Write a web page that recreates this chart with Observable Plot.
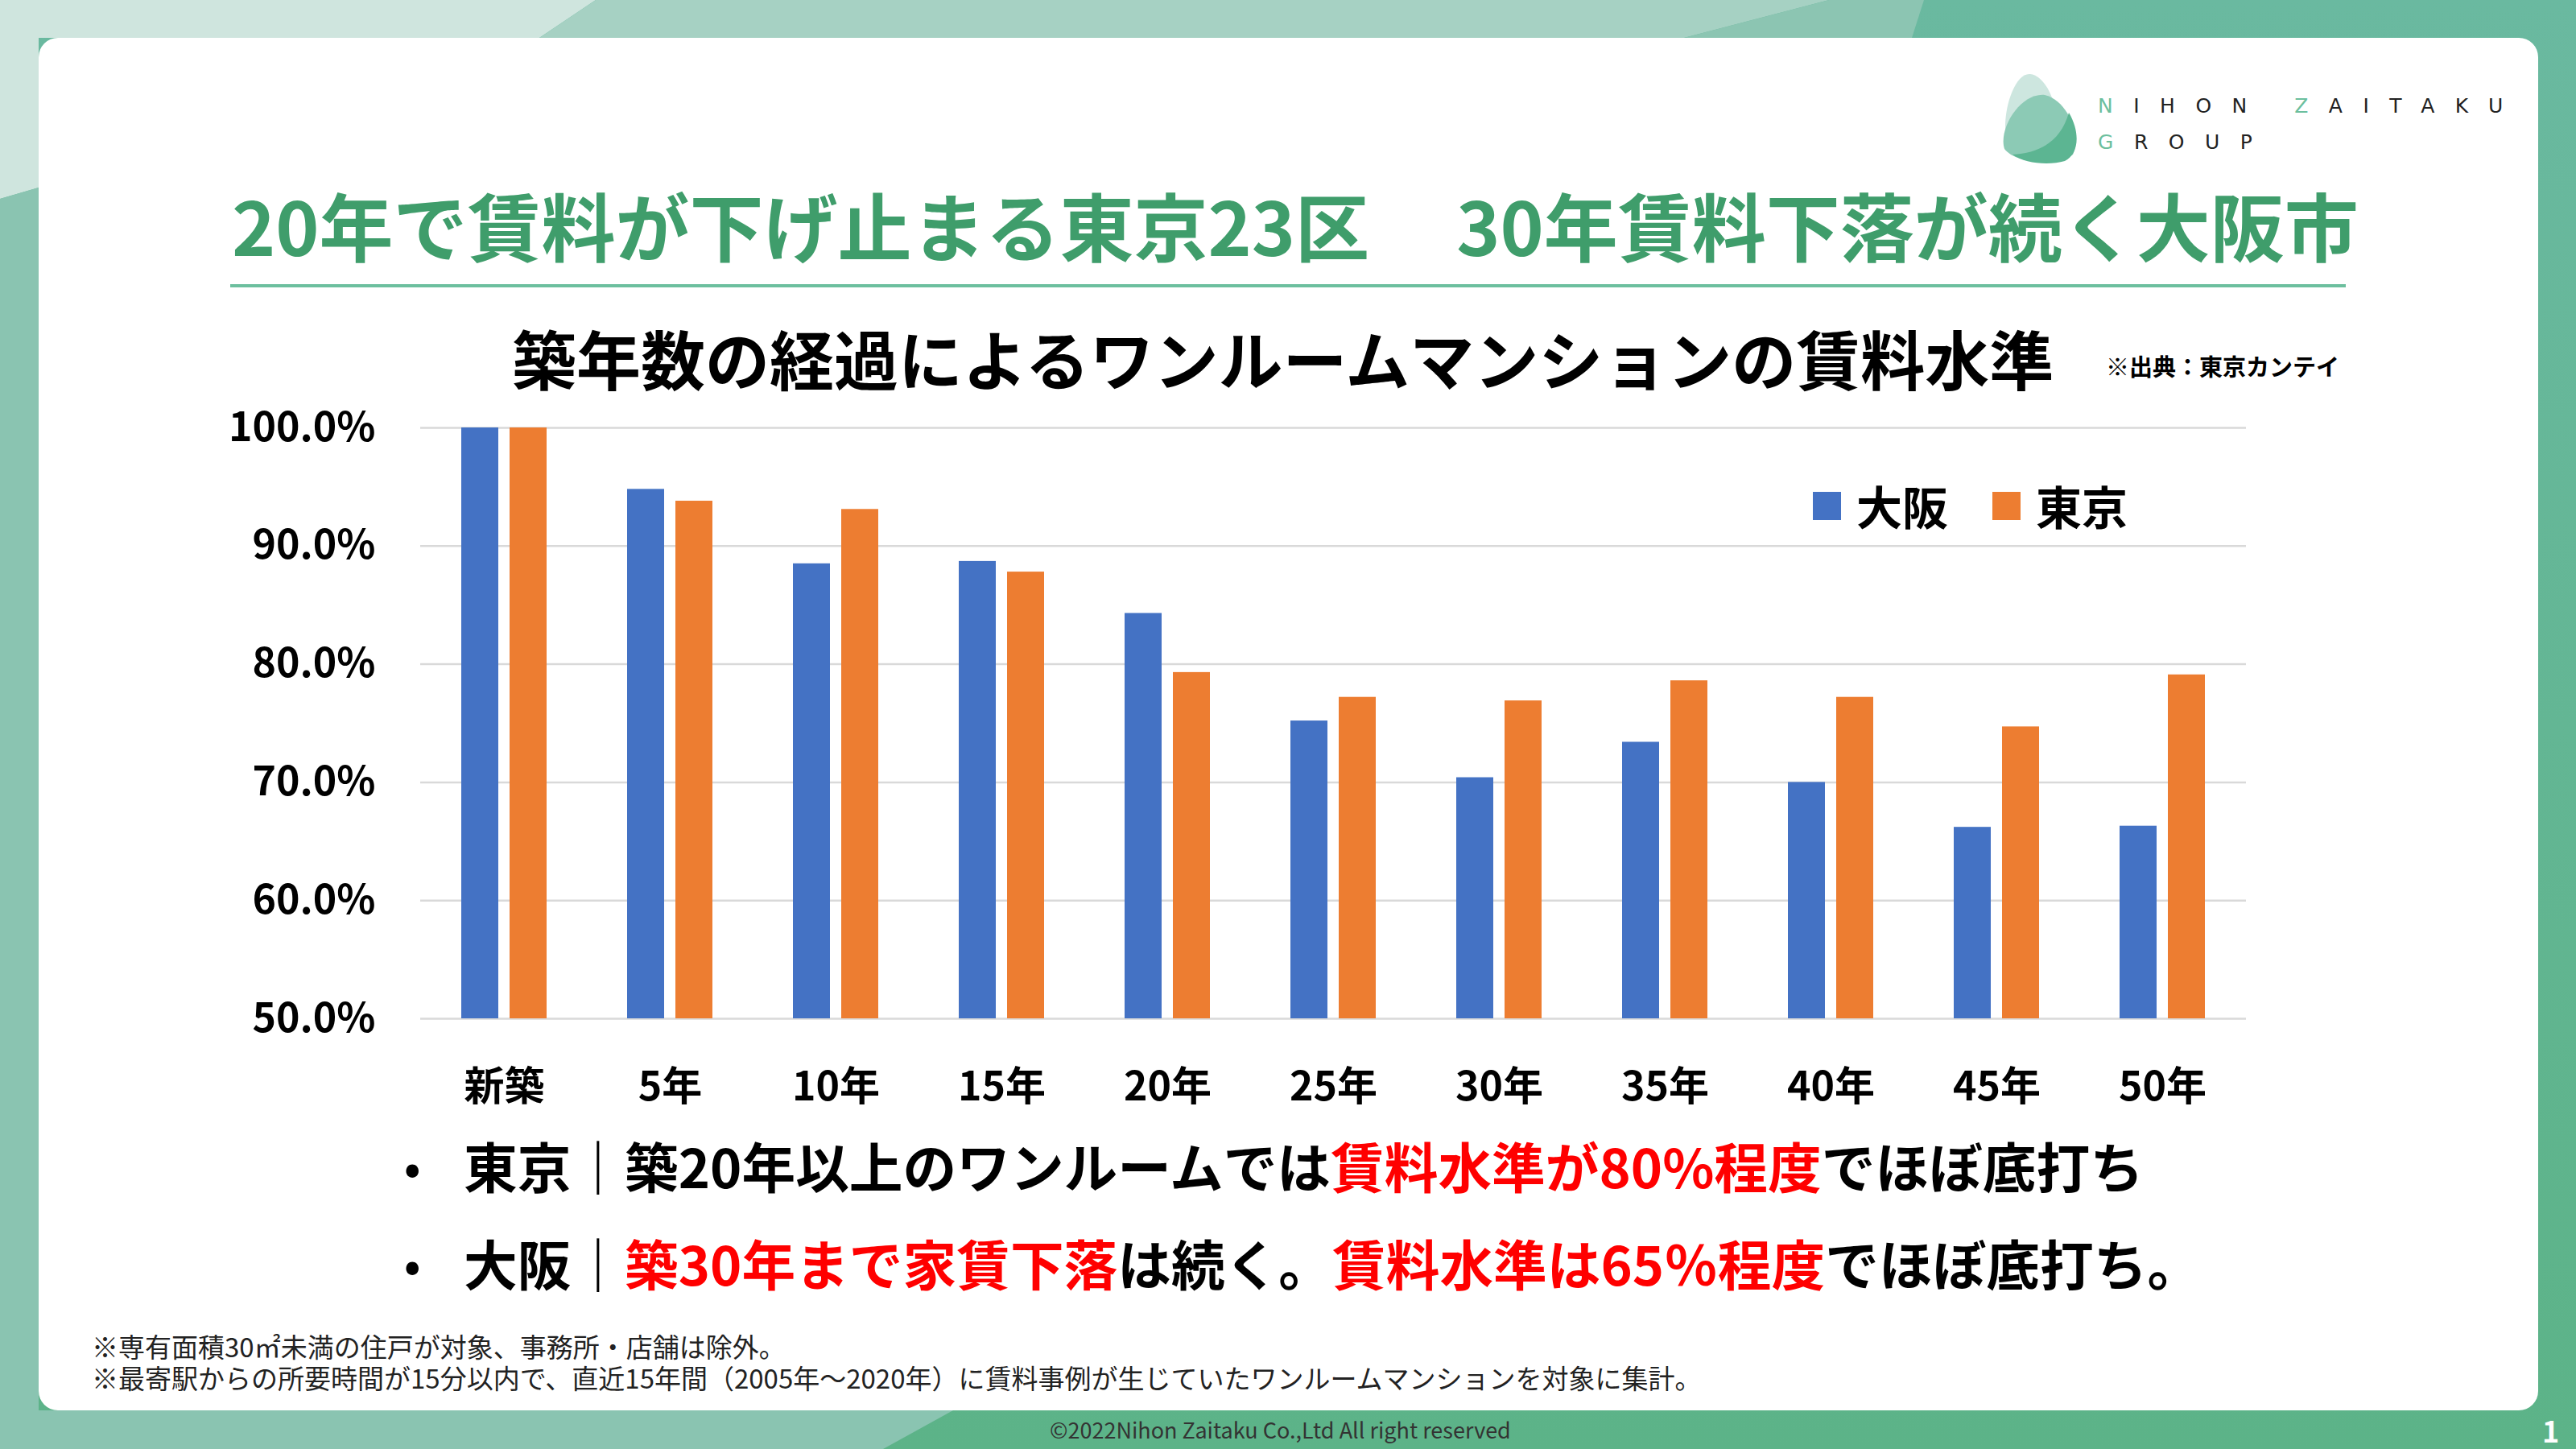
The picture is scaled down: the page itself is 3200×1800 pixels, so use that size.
<!DOCTYPE html>
<html lang="ja">
<head>
<meta charset="utf-8">
<script src="https://cdn.jsdelivr.net/npm/d3@7"></script>
<script src="https://cdn.jsdelivr.net/npm/@observablehq/plot@0.6"></script>
<style>
  html, body { margin: 0; padding: 0; }
  body { width: 3200px; height: 1800px; position: relative; overflow: hidden; background: #6ab9a0;
         font-family: "Noto Sans CJK JP", "Noto Sans", sans-serif; }
  .abs { position: absolute; white-space: nowrap; }
  #bg { position: absolute; left: 0; top: 0; }
  .red { color: #ff0000; }
</style>
</head>
<body>
<svg id="bg" width="3200" height="1800" viewBox="0 0 3200 1800">
  <defs>
    <linearGradient id="dark" x1="0" y1="0" x2="0" y2="1">
      <stop offset="0" stop-color="#6ab9a0"/>
      <stop offset="1" stop-color="#5cb388"/>
    </linearGradient>
  </defs>
  <rect x="0" y="0" width="3200" height="1800" fill="url(#dark)"/>
  <polygon points="0,0 740,0 670,47 48,47 48,233 0,247" fill="#cfe5de"/>
  <polygon points="740,0 2272,0 2092,47 670,47" fill="#a6d1c3"/>
  <polygon points="2272,0 2390,0 2375,47 2092,47" fill="#8cc5b2"/>
  <polygon points="0,247 48,233 48,1752 1184,1752 1097,1800 0,1800" fill="#8ac4b1"/>
  <rect x="48" y="47" width="3105" height="1705" rx="24" ry="24" fill="#ffffff"/>
  <!-- logo -->
  <path d="M2522,92 C2545,95 2560,140 2556,175 C2552,198 2505,200 2494,178 C2484,150 2500,90 2522,92 Z" fill="#cde6df"/>
  <path d="M2540,118 C2570,125 2585,170 2575,192 C2560,205 2505,205 2490,185 C2482,160 2510,115 2540,118 Z" fill="#8ccab5"/>
  <path d="M2570,140 C2585,165 2582,192 2565,200 C2545,206 2515,203 2500,192 C2535,190 2560,175 2570,140 Z" fill="#5cb592"/>
</svg>

<div class="abs" style="left:2606px; top:117px; font-family:'DejaVu Sans','Noto Sans',sans-serif; font-size:25px; letter-spacing:25.5px; color:#222; line-height:30px;"><span style="color:#6cbf9e">N</span>IHON <span style="color:#6cbf9e">Z</span>AITAKU</div>
<div class="abs" style="left:2606px; top:162px; font-family:'DejaVu Sans','Noto Sans',sans-serif; font-size:25px; letter-spacing:25.5px; color:#222; line-height:30px;"><span style="color:#6cbf9e">G</span>ROUP</div>

<div class="abs" style="left:288px; top:232px; font-size:92px; font-weight:700; color:#3f9d6b; line-height:92px;">20年で賃料が下げ止まる東京23区　<span style="margin-left:16px">30年賃料下落が続く大阪市</span></div>
<div class="abs" style="left:286px; top:353px; width:2628px; height:4px; background:#6cbf9e;"></div>

<div class="abs" style="left:636px; top:403px; font-size:80px; font-weight:700; color:#000; line-height:80px;">築年数の経過によるワンルームマンションの賃料水準</div>
<div class="abs" style="left:2616px; top:440px; font-size:29px; font-weight:700; color:#000; line-height:29px;">※出典：東京カンテイ</div>

<div id="chart" class="abs" style="left:100px; top:480px;"></div>
<div id="legend" class="abs" style="left:2252px; top:594px; height:60px;"></div>

<div class="abs" style="left:502px; top:1414px; font-size:54px; font-weight:700; line-height:67px;">•</div>
<div class="abs" style="left:576px; top:1414px; font-size:66.7px; font-weight:700; color:#000; line-height:67px;">東京｜築20年以上のワンルームでは<span class="red">賃料水準が80%程度</span>でほぼ底打ち</div>
<div class="abs" style="left:502px; top:1535px; font-size:54px; font-weight:700; line-height:67px;">•</div>
<div class="abs" style="left:576px; top:1535px; font-size:66.7px; font-weight:700; color:#000; line-height:67px;">大阪｜<span class="red">築30年まで家賃下落</span>は続く。<span class="red">賃料水準は65％程度</span>でほぼ底打ち。</div>

<div class="abs" style="left:114px; top:1653px; font-size:33px; color:#222; line-height:39px;">※専有面積30㎡未満の住戸が対象、事務所・店舗は除外。<br>※最寄駅からの所要時間が15分以内で、直近15年間（2005年～2020年）に賃料事例が生じていたワンルームマンションを対象に集計。</div>

<div class="abs" style="left:1304px; top:1761px; font-size:27px; color:#333; line-height:30px;">©2022Nihon Zaitaku Co.,Ltd All right reserved</div>
<div class="abs" style="left:3158px; top:1756px; font-size:36px; font-weight:700; color:#fff; line-height:40px;">1</div>

<script>
const categories = ["新築", "5年", "10年", "15年", "20年", "25年", "30年", "35年", "40年", "45年", "50年"];
const series = ["大阪", "東京"];
const osaka = [100, 94.8, 88.5, 88.7, 84.3, 75.2, 70.4, 73.4, 70.0, 66.2, 66.3];
const tokyo = [100, 93.8, 93.1, 87.8, 79.3, 77.2, 76.9, 78.6, 77.2, 74.7, 79.1];
const seriesColors = ["#4472c4", "#ed7d31"];
const yDomain = [50, 100];
const yTicks = [50, 60, 70, 80, 90, 100];

const rows = [];
categories.forEach((c, i) => {
  rows.push({category: c, series: series[0], value: osaka[i]});
  rows.push({category: c, series: series[1], value: tokyo[i]});
});

const chart = Plot.plot({
  width: 2750,
  height: 920,
  marginLeft: 422,
  marginRight: 60,
  marginTop: 51,
  marginBottom: 135,
  style: {fontFamily: "'Noto Sans CJK JP', sans-serif", fontSize: "50px", fontWeight: 700, color: "#000", background: "transparent", overflow: "visible"},
  x: {domain: categories, paddingInner: 0.487, paddingOuter: 0.235, label: null, tickSize: 0, tickPadding: 66},
  y: {domain: yDomain, clamp: true, ticks: yTicks, tickFormat: d => d.toFixed(1) + "%", label: null, tickSize: 0, tickPadding: 56},
  color: {domain: series, range: seriesColors},
  marks: [
    Plot.gridY(yTicks, {stroke: "#d9d9d9", strokeOpacity: 1, strokeWidth: 2.5}),
    Plot.barY(rows.filter(d => d.series === series[0]), {x: "category", y1: yDomain[0], y2: "value", fill: "series", insetRight: 60}),
    Plot.barY(rows.filter(d => d.series === series[1]), {x: "category", y1: yDomain[0], y2: "value", fill: "series", insetLeft: 60})
  ]
});
document.getElementById("chart").appendChild(chart);

const legend = document.getElementById("legend");
series.forEach((s, i) => {
  const sw = document.createElement("span");
  sw.style.cssText = `position:absolute; top:17px; left:${i * 223}px; width:35px; height:35px; background:${seriesColors[i]};`;
  const tx = document.createElement("span");
  tx.textContent = s;
  tx.style.cssText = `position:absolute; top:0; left:${i * 223 + 54}px; font-size:57px; font-weight:700; line-height:66px; color:#000; white-space:nowrap;`;
  legend.appendChild(sw);
  legend.appendChild(tx);
});
</script>
</body>
</html>
